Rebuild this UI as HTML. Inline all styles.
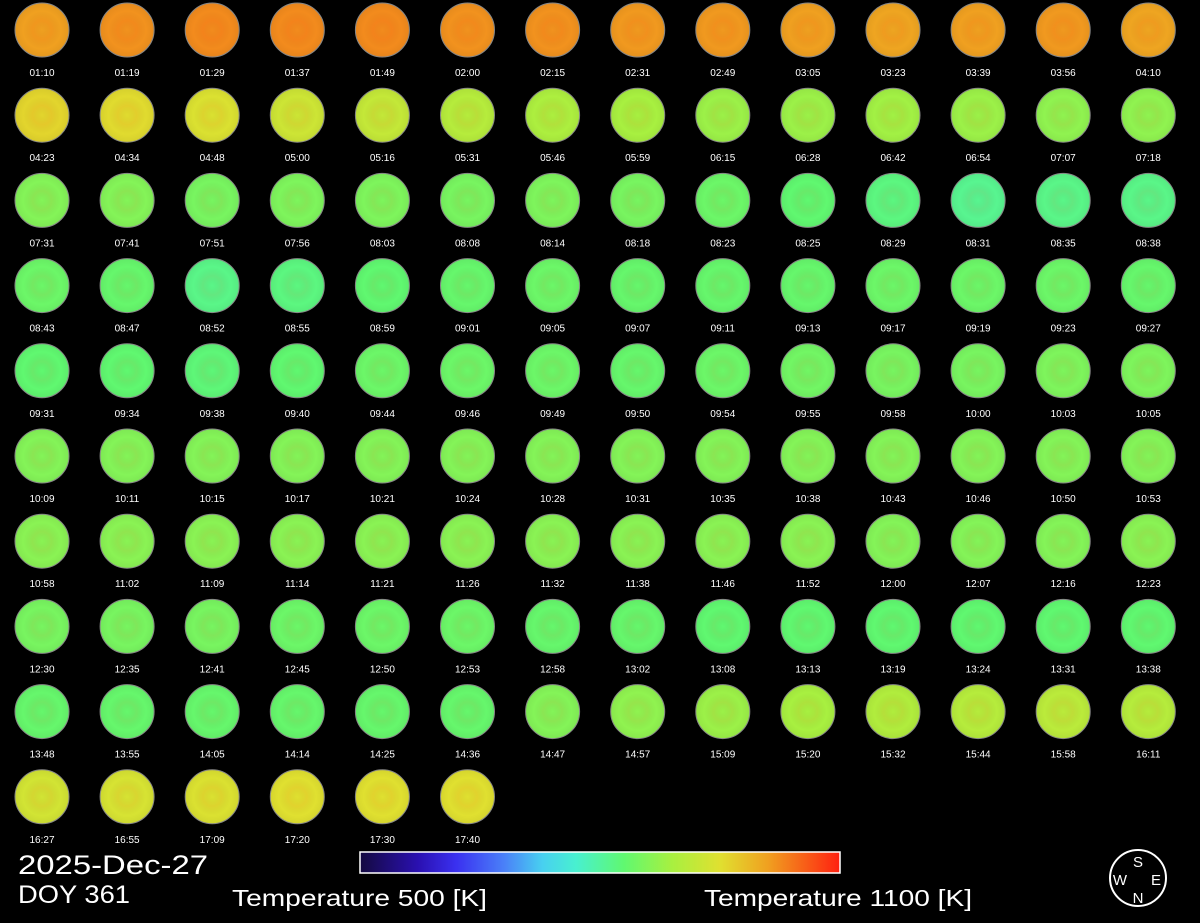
<!DOCTYPE html>
<html><head><meta charset="utf-8"><style>
html,body{margin:0;padding:0;background:#000;width:1200px;height:923px;overflow:hidden}
svg{display:block}
text{font-family:"Liberation Sans",sans-serif;fill:#fff}
</style></head><body>
<svg id="chart" width="1200" height="923" viewBox="0 0 1200 923">
<defs>
<linearGradient id="cbar" x1="0" x2="1" y1="0" y2="0">
<stop offset="0" stop-color="#140a40"/><stop offset="0.12" stop-color="#2a10b0"/>
<stop offset="0.2" stop-color="#3a30f0"/><stop offset="0.3" stop-color="#4a80f8"/>
<stop offset="0.38" stop-color="#48d0f0"/><stop offset="0.45" stop-color="#48f0d0"/>
<stop offset="0.55" stop-color="#60f870"/><stop offset="0.65" stop-color="#a8f040"/>
<stop offset="0.75" stop-color="#e0e030"/><stop offset="0.85" stop-color="#f0a020"/>
<stop offset="1" stop-color="#ff2010"/>
</linearGradient>
<radialGradient id="shade"><stop offset="0" stop-color="#000" stop-opacity="0"/><stop offset="0.35" stop-color="#f00" stop-opacity="0.06"/><stop offset="0.7" stop-color="#000" stop-opacity="0"/><stop offset="1" stop-color="#000" stop-opacity="0.05"/></radialGradient>
</defs>
<g id="disks"></g>
<text x="18" y="874" font-size="27" textLength="190" lengthAdjust="spacingAndGlyphs">2025-Dec-27</text>
<text x="18" y="903" font-size="25" textLength="112" lengthAdjust="spacingAndGlyphs">DOY 361</text>
<rect x="360" y="852" width="480" height="21" fill="url(#cbar)" stroke="#fff" stroke-width="1.5"/>
<text x="232" y="906" font-size="23" textLength="255" lengthAdjust="spacingAndGlyphs">Temperature 500 [K]</text>
<text x="704" y="906" font-size="23" textLength="268" lengthAdjust="spacingAndGlyphs">Temperature 1100 [K]</text>
<g>
<circle cx="1138" cy="878" r="28" fill="none" stroke="#fff" stroke-width="2"/>
<text x="1138" y="867" font-size="15" text-anchor="middle">S</text>
<text x="1138" y="903" font-size="15" text-anchor="middle">N</text>
<text x="1120" y="885" font-size="15" text-anchor="middle">W</text>
<text x="1156" y="885" font-size="15" text-anchor="middle">E</text>
</g>
</svg>
<script>
const times = ["01:10","01:19","01:29","01:37","01:49","02:00","02:15","02:31","02:49","03:05","03:23","03:39","03:56","04:10",
"04:23","04:34","04:48","05:00","05:16","05:31","05:46","05:59","06:15","06:28","06:42","06:54","07:07","07:18",
"07:31","07:41","07:51","07:56","08:03","08:08","08:14","08:18","08:23","08:25","08:29","08:31","08:35","08:38",
"08:43","08:47","08:52","08:55","08:59","09:01","09:05","09:07","09:11","09:13","09:17","09:19","09:23","09:27",
"09:31","09:34","09:38","09:40","09:44","09:46","09:49","09:50","09:54","09:55","09:58","10:00","10:03","10:05",
"10:09","10:11","10:15","10:17","10:21","10:24","10:28","10:31","10:35","10:38","10:43","10:46","10:50","10:53",
"10:58","11:02","11:09","11:14","11:21","11:26","11:32","11:38","11:46","11:52","12:00","12:07","12:16","12:23",
"12:30","12:35","12:41","12:45","12:50","12:53","12:58","13:02","13:08","13:13","13:19","13:24","13:31","13:38",
"13:48","13:55","14:05","14:14","14:25","14:36","14:47","14:57","15:09","15:20","15:32","15:44","15:58","16:11",
"16:27","16:55","17:09","17:20","17:30","17:40"];
const temps = [1010,1020,1025,1025,1025,1020,1020,1015,1015,1010,1005,1010,1015,1005,
960,955,945,930,920,905,895,890,880,880,885,880,870,870,
860,860,850,855,855,850,855,850,840,830,820,810,815,815,
840,835,815,820,830,835,840,835,835,835,840,840,840,835,
830,830,825,830,840,840,840,835,840,845,850,850,855,855,
860,860,860,860,860,860,860,860,860,860,860,860,860,860,
865,865,865,865,865,865,865,865,865,865,860,860,860,865,
850,850,850,840,840,840,835,835,830,830,830,830,830,830,
835,835,835,835,835,835,860,870,880,890,900,905,910,905,
935,940,945,950,950,950];
const tMin = 500, tMax = 1100;
const stops = [[0,[20,10,64]],[0.12,[42,16,176]],[0.2,[58,48,240]],[0.3,[74,128,248]],[0.38,[72,208,240]],[0.45,[72,240,208]],[0.55,[96,248,112]],[0.65,[168,240,64]],[0.75,[224,224,48]],[0.85,[240,160,32]],[1,[255,32,16]]];
function colorOf(v){
  const t = Math.max(0,Math.min(1,(v-tMin)/(tMax-tMin)));
  for(let i=1;i<stops.length;i++){
    if(t<=stops[i][0]){
      const a=stops[i-1],b=stops[i],f=(t-a[0])/(b[0]-a[0]);
      const c=a[1].map((x,k)=>Math.round(x+(b[1][k]-x)*f));
      return `rgb(${c[0]},${c[1]},${c[2]})`;
    }
  }
  return 'rgb(255,32,16)';
}
const NS="http://www.w3.org/2000/svg";
const g=document.getElementById('disks');
const cols=14, x0=42, dx=85.1, y0=30, dy=85.2, r=27;
times.forEach((tm,i)=>{
  const cx=x0+(i%cols)*dx, cy=y0+Math.floor(i/cols)*dy;
  const grp=document.createElementNS(NS,'g');
  
  
  const c=document.createElementNS(NS,'circle');
  c.setAttribute('cx',cx);c.setAttribute('cy',cy);c.setAttribute('r',r);
  c.setAttribute('fill',colorOf(temps[i]));
  c.setAttribute('stroke','#8a8a8a');c.setAttribute('stroke-width','1');
  grp.appendChild(c);
  const s=document.createElementNS(NS,'circle');
  s.setAttribute('cx',cx);s.setAttribute('cy',cy);s.setAttribute('r',r);
  s.setAttribute('fill','url(#shade)');
  grp.appendChild(s);
  const t=document.createElementNS(NS,'text');
  t.setAttribute('x',cx);t.setAttribute('y',cy+46);
  t.setAttribute('font-size','10');t.setAttribute('text-anchor','middle');
  t.textContent=tm;
  grp.appendChild(t);
  g.appendChild(grp);
});
</script>
</body></html>
